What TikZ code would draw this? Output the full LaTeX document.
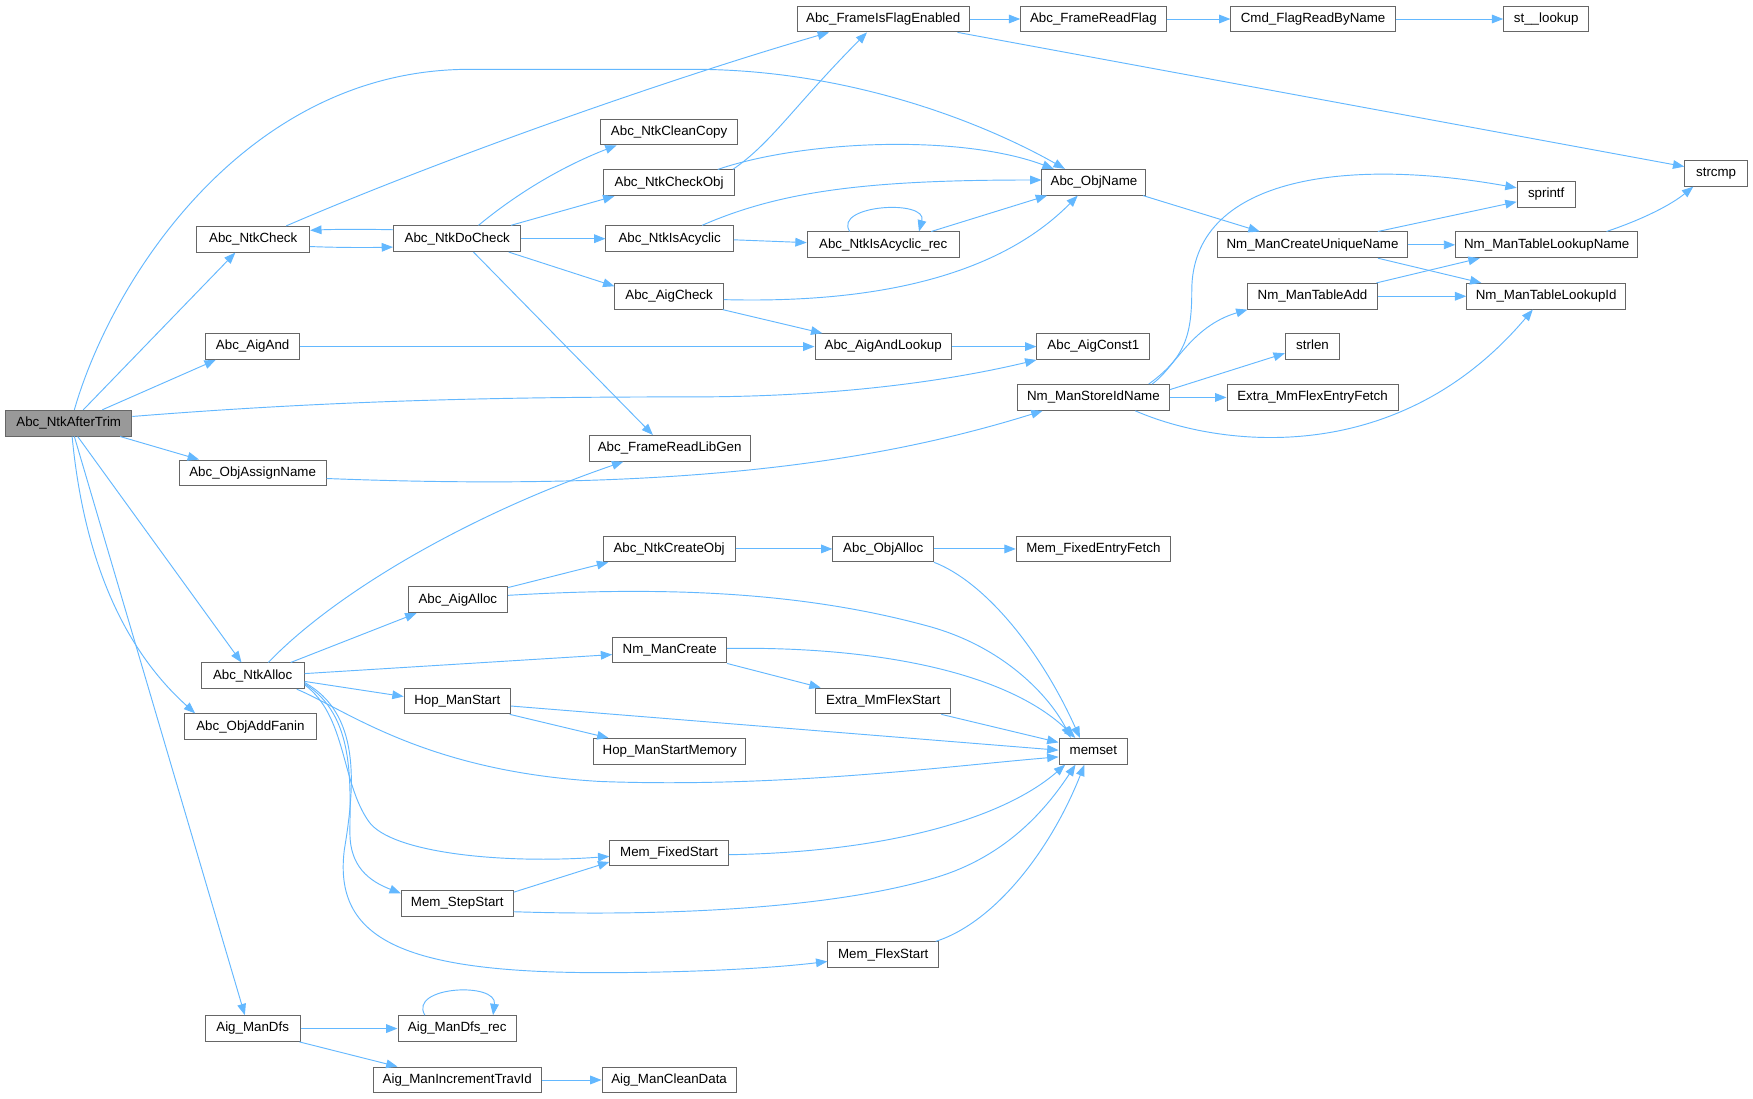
\documentclass[tikz,border=0pt]{standalone}
\usepackage{fontspec}
\setmainfont{Liberation Sans}
\usetikzlibrary{arrows.meta,calc}
\definecolor{edgec}{HTML}{63B8FF}
\definecolor{boxc}{HTML}{666666}
\definecolor{rootc}{HTML}{999999}
\tikzset{
 fn/.style={draw=boxc, fill=white, line width=0.75pt, font=\fontsize{10}{12}\selectfont, minimum height=19.3pt, inner xsep=2pt, inner ysep=0pt, text height=7.2pt, text depth=2.1pt},
 bw/.style={minimum width=#1*0.8386pt},
 cl/.style={draw=edgec, line width=0.7pt, -{Triangle[length=8.5pt,width=6.5pt]}},
}
\begin{document}
\begin{tikzpicture}[x=0.8386pt,y=-0.8386pt]
\fill[white] (0,0) rectangle (1568,983);
\useasboundingbox (0,0) rectangle (1568,983);
% nodes
\node[fn,bw=113,fill=rootc] (root) at (61.5,378.5) {Abc\_NtkAfterTrim};
\node[fn,bw=101] (nchk) at (226.5,214) {Abc\_NtkCheck};
\node[fn,bw=114] (ndchk) at (409,213.5) {Abc\_NtkDoCheck};
\node[fn,bw=84] (aand) at (226,310) {Abc\_AigAnd};
\node[fn,bw=131.5] (oasn) at (226,423) {Abc\_ObjAssignName};
\node[fn,bw=154] (fife) at (790,17) {Abc\_FrameIsFlagEnabled};
\node[fn,bw=130] (frf) at (978,17) {Abc\_FrameReadFlag};
\node[fn,bw=147] (cmd) at (1174.5,17) {Cmd\_FlagReadByName};
\node[fn,bw=76] (stl) at (1383,17) {st\_\_lookup};
\node[fn,bw=56] (strcmp) at (1535,155) {strcmp};
\node[fn,bw=123] (ncc) at (598.5,118) {Abc\_NtkCleanCopy};
\node[fn,bw=117] (nco) at (598.5,163.5) {Abc\_NtkCheckObj};
\node[fn,bw=93] (oname) at (978.5,163) {Abc\_ObjName};
\node[fn,bw=114] (nia) at (599,213.5) {Abc\_NtkIsAcyclic};
\node[fn,bw=136] (niar) at (790,219) {Abc\_NtkIsAcyclic\_rec};
\node[fn,bw=97] (achk) at (598.5,265) {Abc\_AigCheck};
\node[fn,bw=122] (aal) at (790,310) {Abc\_AigAndLookup};
\node[fn,bw=101] (ac1) at (978,310) {Abc\_AigConst1};
\node[fn,bw=136] (nsin) at (978,355.5) {Nm\_ManStoreIdName};
\node[fn,bw=144] (frlg) at (599,401) {Abc\_FrameReadLibGen};
\node[fn,bw=169.5] (ncun) at (1174,219) {Nm\_ManCreateUniqueName};
\node[fn,bw=52] (spf) at (1383,174) {sprintf};
\node[fn,bw=163] (ntln) at (1383.5,219) {Nm\_ManTableLookupName};
\node[fn,bw=115.5] (nta) at (1174,265) {Nm\_ManTableAdd};
\node[fn,bw=142] (ntli) at (1383,265) {Nm\_ManTableLookupId};
\node[fn,bw=48.6] (strlen) at (1174,310) {strlen};
\node[fn,bw=153] (emfef) at (1174,355.5) {Extra\_MmFlexEntryFetch};
\node[fn,bw=92] (nalloc) at (226,604.5) {Abc\_NtkAlloc};
\node[fn,bw=118] (oaf) at (224,650) {Abc\_ObjAddFanin};
\node[fn,bw=85] (amd) at (226,920) {Aig\_ManDfs};
\node[fn,bw=89] (aalloc) at (409.5,536.5) {Abc\_AigAlloc};
\node[fn,bw=102] (nmc) at (599,581.5) {Nm\_ManCreate};
\node[fn,bw=95] (hms) at (409,627) {Hop\_ManStart};
\node[fn,bw=136.5] (hmsm) at (599,672) {Hop\_ManStartMemory};
\node[fn,bw=118] (nco2) at (598.5,491) {Abc\_NtkCreateObj};
\node[fn,bw=90] (oalloc) at (790,491) {Abc\_ObjAlloc};
\node[fn,bw=138] (mfef) at (978,491) {Mem\_FixedEntryFetch};
\node[fn,bw=121] (emfs) at (790,627) {Extra\_MmFlexStart};
\node[fn,bw=61.5] (memset) at (978,672) {memset};
\node[fn,bw=106] (mfs) at (598.5,763) {Mem\_FixedStart};
\node[fn,bw=100] (mss) at (409,808) {Mem\_StepStart};
\node[fn,bw=99] (mfls) at (790,854) {Mem\_FlexStart};
\node[fn,bw=106] (amdr) at (409,920) {Aig\_ManDfs\_rec};
\node[fn,bw=150] (amit) at (409,966) {Aig\_ManIncrementTravId};
\node[fn,bw=120] (amcd) at (598.5,966) {Aig\_ManCleanData};
% edges from root
\draw[cl] ($(root.north)+(5,0)$) .. controls (100,250) and (220,62) .. (420,62) -- (620,62) .. controls (760,62) and (880,110) .. ($(oname.north)+(-26,0)$);
\draw[cl] ($(root.north)+(13,0)$) -- ($(nchk.south)+(-16,0)$);
\draw[cl] ($(root.north)+(30,0)$) -- ($(aand.south)+(-33,0)$);
\draw[cl] ($(root.east)+(0,-6)$) .. controls (300,358) and (450,355) .. (620,355) .. controls (760,355) and (860,338) .. (ac1.south west);
\draw[cl] ($(root.south)+(46,0)$) -- ($(oasn.north)+(-48,0)$);
\draw[cl] ($(root.south)+(8,0)$) -- ($(nalloc.north)+(-10,0)$);
\draw[cl] ($(root.south)+(3,0)$) .. controls (75,500) and (110,580) .. ($(oaf.north west)+(10,0)$);
\draw[cl] ($(root.south)+(5,0)$) -- ($(amd.north)+(-7,0)$);
% NtkCheck / DoCheck
\draw[cl] ($(nchk.east)+(0,6.5)$) .. controls (300,221.5) and (330,221.5) .. ($(ndchk.west)+(0,7.5)$);
\draw[cl] ($(ndchk.west)+(0,-8)$) .. controls (330,205) and (300,205) .. ($(nchk.east)+(0,-8)$);
\draw[cl] ($(nchk.north)+(29.5,0)$) .. controls (400,140) and (600,70) .. ($(fife.south)+(-48.5,0)$);
\draw[cl] ($(ndchk.north)+(19,0)$) .. controls (460,175) and (500,150) .. ($(ncc.south west)+(15,0)$);
\draw[cl] ($(ndchk.north)+(48,0)$) -- ($(nco.south west)+(10,0)$);
\draw[cl] (ndchk) -- (nia);
\draw[cl] ($(ndchk.south)+(46,0)$) -- ($(achk.north west)+(0,3)$);
\draw[cl] ($(ndchk.south)+(14.5,0)$) -- ($(frlg.north)+(-15,0)$);
% CheckObj
\draw[cl] ($(nco.north east)+(-2,0)$) .. controls (690,128) and (710,95) .. ($(fife.south)+(-14.5,0)$);
\draw[cl] ($(nco.north)+(43.5,0)$) .. controls (720,125) and (860,120) .. ($(oname.north west)+(11,0)$);
% IsAcyclic
\draw[cl] ($(nia.north)+(29,0)$) .. controls (700,170) and (780,161) .. ($(oname.west)+(0,-2)$);
\draw[cl] ($(nia.east)+(0,1)$) -- ($(niar.west)+(0,-2)$);
\draw[cl] ($(niar.north)+(-30,0)$) .. controls (745,183) and (830,178) .. ($(niar.north)+(32,0)$);
\draw[cl] ($(niar.north)+(43,0)$) -- ($(oname.south west)+(5,0)$);
% AigCheck
\draw[cl] ($(achk.east)+(0,3)$) .. controls (800,272) and (900,240) .. ($(oname.south)+(-14.5,0)$);
\draw[cl] ($(achk.south east)+(-1,0)$) -- ($(aal.north west)+(7,0)$);
\draw[cl] (aand) -- (aal);
\draw[cl] (aal) -- (ac1);
% top row
\draw[cl] (fife) -- (frf);
\draw[cl] (frf) -- (cmd);
\draw[cl] (cmd) -- (stl);
\draw[cl] ($(fife.south east)+(-11,0)$) -- ($(strcmp.west)+(0,-6)$);
% ObjName and name manager
\draw[cl] ($(oname.south east)+(-3,0)$) -- ($(ncun.north west)+(38,0)$);
\draw[cl] ($(ncun.north)+(58.5,0)$) -- ($(spf.west)+(0,6.5)$);
\draw[cl] (ncun) -- (ntln);
\draw[cl] ($(ncun.south)+(58.5,0)$) -- ($(ntli.north west)+(13.5,0)$);
\draw[cl] ($(ntln.north)+(53.5,0)$) .. controls (1470,196) and (1495,183) .. ($(strcmp.south west)+(8,0)$);
\draw[cl] ($(nta.north east)+(-1,0)$) -- ($(ntln.south west)+(22,0)$);
\draw[cl] (nta) -- (ntli);
\draw[cl] ($(nsin.north east)+(-19,0)$) .. controls (1060,320) and (1066,300) .. (1066,260) .. controls (1066,160) and (1200,140) .. ($(spf.west)+(0,-6)$);
\draw[cl] ($(nsin.north east)+(-16,0)$) .. controls (1050,330) and (1065,292) .. (nta.south west);
\draw[cl] ($(nsin.east)+(0,-7)$) -- ($(strlen.west)+(0,6)$);
\draw[cl] (nsin) -- (emfef);
\draw[cl] ($(nsin.south east)+(-31,0)$) .. controls (1090,400) and (1250,420) .. ($(ntli.south)+(-12,0)$);
\draw[cl] ($(oasn.east)+(0,5)$) .. controls (600,440) and (780,415) .. ($(nsin.south west)+(23,0)$);
% NtkAlloc
\draw[cl] ($(nalloc.north)+(14,0)$) .. controls (300,530) and (420,460) .. ($(frlg.south west)+(31,0)$);
\draw[cl] ($(nalloc.north)+(34,0)$) -- ($(aalloc.south west)+(8,0)$);
\draw[cl] ($(nalloc.east)+(0,-2)$) -- ($(nmc.west)+(0,4)$);
\draw[cl] ($(nalloc.east)+(0,5)$) -- ($(hms.west)+(0,-4)$);
\draw[cl] ($(nalloc.south east)+(-7,0)$) .. controls (310,635) and (380,690) .. (537,699) .. controls (700,705) and (850,685) .. ($(memset.west)+(0,5)$);
\draw[cl] ($(nalloc.east)+(0,8)$) .. controls (310,640) and (305,700) .. (330,735) .. controls (350,763) and (450,773) .. ($(mfs.west)+(0,3)$);
\draw[cl] ($(nalloc.east)+(0,7)$) .. controls (318,640) and (313,700) .. (313,745) .. controls (313,775) and (330,788) .. ($(mss.north west)+(0,3)$);
\draw[cl] ($(nalloc.east)+(0,6)$) .. controls (322,638) and (318,700) .. (308,760) .. controls (298,840) and (360,870) .. (537,870) .. controls (620,870) and (690,866) .. ($(mfls.west)+(0,6)$);
% AigAlloc and others to memset
\draw[cl] ($(aalloc.north east)+(0,1)$) -- ($(nco2.south west)+(5,0)$);
\draw[cl] ($(aalloc.east)+(0,-4)$) .. controls (600,524) and (720,530) .. (830,560) .. controls (900,579) and (940,625) .. ($(memset.north west)+(11,0)$);
\draw[cl] (nco2) -- (oalloc);
\draw[cl] (oalloc) -- (mfef);
\draw[cl] (oalloc.south east) .. controls (880,520) and (930,580) .. ($(memset.north)+(-12,0)$);
\draw[cl] ($(nmc.east)+(0,-1.5)$) .. controls (780,578) and (900,600) .. ($(memset.north west)+(15,0)$);
\draw[cl] (nmc.south east) -- ($(emfs.north west)+(5,0)$);
\draw[cl] ($(hms.east)+(0,4.5)$) -- ($(memset.west)+(0,-1)$);
\draw[cl] ($(hms.south east)+(-1,0)$) -- ($(hmsm.north west)+(14,0)$);
\draw[cl] ($(emfs.south east)+(-9,0)$) -- ($(memset.north west)+(0,4)$);
\draw[cl] ($(mfs.east)+(0,1.5)$) .. controls (800,762) and (900,730) .. ($(memset.south west)+(6,0)$);
\draw[cl] ($(mss.north east)+(0,2)$) -- ($(mfs.west)+(0,8)$);
\draw[cl] ($(mss.east)+(0,7.5)$) .. controls (600,820) and (750,812) .. (840,784) .. controls (900,765) and (935,725) .. ($(memset.south)+(-16,0)$);
\draw[cl] ($(mfls.north east)+(-3,0)$) .. controls (890,825) and (940,760) .. ($(memset.south)+(-8,0)$);
% Aig
\draw[cl] (amd) -- (amdr);
\draw[cl] ($(amd.south east)+(-1,0)$) -- ($(amit.north west)+(22,0)$);
\draw[cl] ($(amdr.north)+(-29,0)$) .. controls (365,882) and (445,878) .. ($(amdr.north)+(32,0)$);
\draw[cl] (amit) -- (amcd);
\end{tikzpicture}
\end{document}
